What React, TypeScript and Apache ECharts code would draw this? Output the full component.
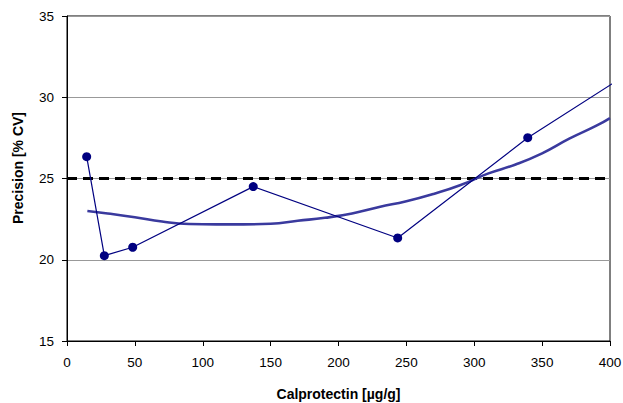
import React, { useEffect, useRef } from "react";
import * as echarts from "echarts";

// Measured precision points (x: calprotectin µg/g, y: %CV)
const measuredX = [14.5, 27.5, 48.4, 137.2, 243.6, 339.4, 404];
const measuredY = [26.34, 20.25, 20.77, 24.5, 21.34, 27.51, 30.96];

// Fitted precision profile curve
const fitX = [15, 30, 50, 70, 90, 110, 130, 150, 170, 190, 210, 230, 250, 270, 290, 310, 330, 350, 370, 390, 400];
const fitY = [23.0, 22.85, 22.62, 22.35, 22.2, 22.18, 22.18, 22.22, 22.4, 22.58, 22.85, 23.25, 23.6, 24.05, 24.6, 25.3, 25.85, 26.55, 27.45, 28.25, 28.72];

// Precision goal threshold
const limitX = [0, 400];
const limitY = [25, 25];

const xTicks = [0, 50, 100, 150, 200, 250, 300, 350, 400];
const yTicks = [15, 20, 25, 30, 35];

const FONT = "Liberation Sans, Arial, sans-serif";

export default function App() {
  const ref = useRef<HTMLDivElement>(null);

  useEffect(() => {
    if (!ref.current) return;
    const chart = echarts.init(ref.current, undefined, { renderer: "svg" });
    const measured = measuredX.map((x, i) =>
      i === measuredX.length - 1
        ? { value: [x, measuredY[i]], symbol: "none" }
        : { value: [x, measuredY[i]] }
    );
    chart.setOption({
      animation: false,
      backgroundColor: "#ffffff",
      grid: {
        left: 67,
        right: 13,
        top: 16,
        bottom: 62,
        containLabel: false,
        outerBoundsMode: "none",
        show: true,
        borderColor: "#000",
        borderWidth: 1,
      },
      xAxis: {
        type: "value",
        min: xTicks[0],
        max: xTicks[xTicks.length - 1],
        interval: 50,
        name: "Calprotectin [µg/g]",
        nameLocation: "middle",
        nameGap: 46,
        nameTextStyle: { fontFamily: FONT, fontSize: 14, fontWeight: "bold", color: "#000" },
        axisLine: { show: true, lineStyle: { color: "#000", width: 1 } },
        axisTick: { show: true, length: 5, inside: false, lineStyle: { color: "#000" } },
        axisLabel: { fontFamily: FONT, fontSize: 13.5, color: "#000", margin: 14 },
        splitLine: { show: false },
      },
      yAxis: {
        type: "value",
        min: yTicks[0],
        max: yTicks[yTicks.length - 1],
        interval: 5,
        axisLine: { show: true, lineStyle: { color: "#000", width: 1 } },
        axisTick: { show: true, length: 5, inside: false, lineStyle: { color: "#000" } },
        axisLabel: { fontFamily: FONT, fontSize: 13.5, color: "#000", margin: 13 },
        splitLine: { show: true, lineStyle: { color: "#999", width: 1 } },
      },
      graphic: [
        {
          type: "text",
          x: 18,
          y: 168,
          rotation: Math.PI / 2,
          style: {
            text: "Precision [% CV]",
            fontFamily: FONT,
            fontSize: 14,
            fontWeight: "bold",
            fill: "#000",
            textAlign: "center",
            textVerticalAlign: "middle",
          },
        },
      ],
      series: [
        {
          type: "line",
          data: limitX.map((x, i) => [x, limitY[i]]),
          symbol: "none",
          lineStyle: { color: "#000", width: 3, type: [10, 6] },
          z: 2,
        },
        {
          type: "line",
          data: fitX.map((x, i) => [x, fitY[i]]),
          symbol: "none",
          smooth: true,
          lineStyle: { color: "#3a3a9e", width: 2.6 },
          z: 3,
        },
        {
          type: "line",
          data: measured,
          symbol: "circle",
          symbolSize: 9,
          clip: false,
          itemStyle: { color: "#000080" },
          lineStyle: { color: "#000080", width: 1.2 },
          z: 4,
        },
      ],
    });
    return () => chart.dispose();
  }, []);

  return (
    <div
      ref={ref}
      style={{ position: "fixed", left: 0, top: 0, width: 623, height: 403 }}
    />
  );
}
